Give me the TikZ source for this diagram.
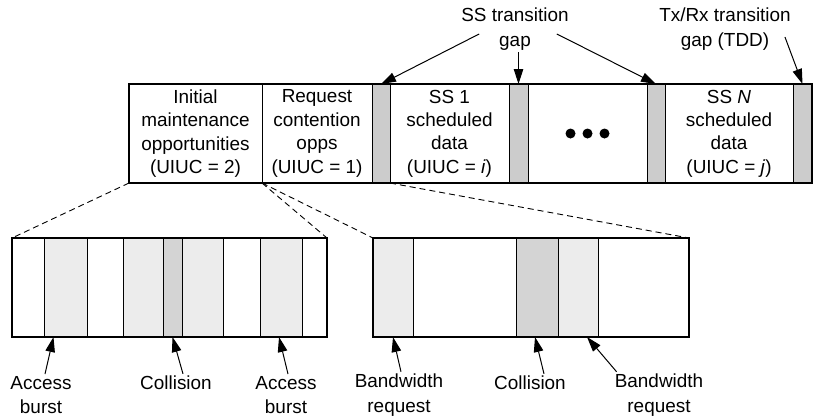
\documentclass[tikz,border=0pt]{standalone}
\usepackage{fontspec}
\setmainfont{Liberation Sans}
\usetikzlibrary{arrows.meta,positioning}
\definecolor{gapfill}{HTML}{CCCCCC}
\definecolor{burstfill}{HTML}{ECECEC}
\definecolor{collfill}{HTML}{D4D4D4}
\tikzset{
  slot/.style={draw,line width=1bp,minimum height=99bp,inner sep=0pt,outer sep=0pt,
    align=center,font=\fontsize{19}{23.5}\selectfont},
  slot_gap/.style={slot,fill=gapfill},
  slot_burst/.style={slot,fill=burstfill},
  slot_coll/.style={slot,fill=collfill},
  frame/.style={draw,line width=2bp},
  lbl/.style={align=center,inner sep=2bp,font=\fontsize{19}{24.5}\selectfont},
  arr/.style={-{Triangle[length=15bp,width=9.5bp]},line width=1bp},
  zoomline/.style={dash pattern=on 6bp off 4bp,line width=0.9bp},
}
\begin{document}
\begin{tikzpicture}[x=1bp,y=-1bp]
  \useasboundingbox (0,0) rectangle (814,416);

  % uplink subframe
  \node[slot,minimum width=133bp,anchor=north west] (init) at (129,84) {Initial\\maintenance\\opportunities\\(UIUC = 2)};
  \node[slot,minimum width=110bp,right=0pt of init] (req) {Request\\contention\\opps\\(UIUC = 1)};
  \node[slot_gap,minimum width=18bp,right=0pt of req] (g1) {};
  \node[slot,minimum width=119bp,right=0pt of g1] (ss1) {SS 1\\scheduled\\data\\(UIUC = \textit{i})};
  \node[slot_gap,minimum width=19bp,right=0pt of ss1] (g2) {};
  \node[slot,minimum width=119bp,right=0pt of g2] (dots) {};
  \node[slot_gap,minimum width=18bp,right=0pt of dots] (g3) {};
  \node[slot,minimum width=128bp,right=0pt of g3] (ssn) {SS \textit{N}\\scheduled\\data\\(UIUC = \textit{j})};
  \node[slot_gap,minimum width=19bp,right=0pt of ssn] (g4) {};
  \draw[frame] (init.north west) rectangle (g4.south east);
  \foreach \dx in {-17,0,17} \fill ([xshift=\dx bp]dots.center) circle (5bp);

  \node[lbl] (sslab) at (515,29) {SS transition\\gap};
  \node[lbl] (txlab) at (725,29) {Tx/Rx transition\\gap (TDD)};
  \draw[arr] ([shift={(20bp,-5bp)}]sslab.west) -- (g1.north);
  \draw[arr] (g2.north |- sslab.south) -- (g2.north);
  \draw[arr] ([shift={(-14bp,-5bp)}]sslab.east) -- (g3.north);
  \draw[arr] ([shift={(-8bp,-8bp)}]txlab.east) -- (g4.north);

  % initial maintenance zoom
  \node[slot,minimum width=32bp,anchor=north west] (b1) at (12,238) {};
  \node[slot_burst,minimum width=43bp,right=0pt of b1] (b2) {};
  \node[slot,minimum width=36bp,right=0pt of b2] (b3) {};
  \node[slot_burst,minimum width=40bp,right=0pt of b3] (b4) {};
  \node[slot_coll,minimum width=19bp,right=0pt of b4] (b5) {};
  \node[slot_burst,minimum width=41bp,right=0pt of b5] (b6) {};
  \node[slot,minimum width=37bp,right=0pt of b6] (b7) {};
  \node[slot_burst,minimum width=42bp,right=0pt of b7] (b8) {};
  \node[slot,minimum width=25bp,right=0pt of b8] (b9) {};
  \draw[frame] (b1.north west) rectangle (b9.south east);

  % request contention zoom
  \node[slot_burst,minimum width=40bp,anchor=north west] (r1) at (373,238) {};
  \node[slot,minimum width=103bp,right=0pt of r1] (r2) {};
  \node[slot_coll,minimum width=42bp,right=0pt of r2] (r3) {};
  \node[slot_burst,minimum width=40bp,right=0pt of r3] (r4) {};
  \node[slot,minimum width=91bp,right=0pt of r4] (r5) {};
  \draw[frame] (r1.north west) rectangle (r5.south east);

  \draw[zoomline] (init.south west) -- (b1.north west);
  \draw[zoomline] (req.south west) -- (b9.north east);
  \draw[zoomline] (req.south west) -- (r1.north west);
  \draw[zoomline] (g1.south east) -- (r5.north east);

  \node[lbl] (acc1) at (41,395) {Access\\burst};
  \node[lbl] (col1) at (176,383) {Collision};
  \node[lbl] (acc2) at (286,395) {Access\\burst};
  \node[lbl] (bw1) at (399,395) {Bandwidth\\request};
  \node[lbl] (col2) at (530,383) {Collision};
  \node[lbl] (bw2) at (659,395) {Bandwidth\\request};

  \draw[arr] ([xshift=4bp]acc1.north) -- ([xshift=-12bp]b2.south);
  \draw[arr] ([xshift=7bp]col1.north) -- (b5.south);
  \draw[arr] ([xshift=2bp]acc2.north) -- ([xshift=-2bp]b8.south);
  \draw[arr] ([xshift=2bp]bw1.north) -- (r1.south);
  \draw[arr] ([xshift=14bp]col2.north) -- ([xshift=-2bp]r3.south);
  \draw[arr] ([xshift=4bp]bw2.north west) -- ([xshift=9bp]r4.south);
\end{tikzpicture}
\end{document}
